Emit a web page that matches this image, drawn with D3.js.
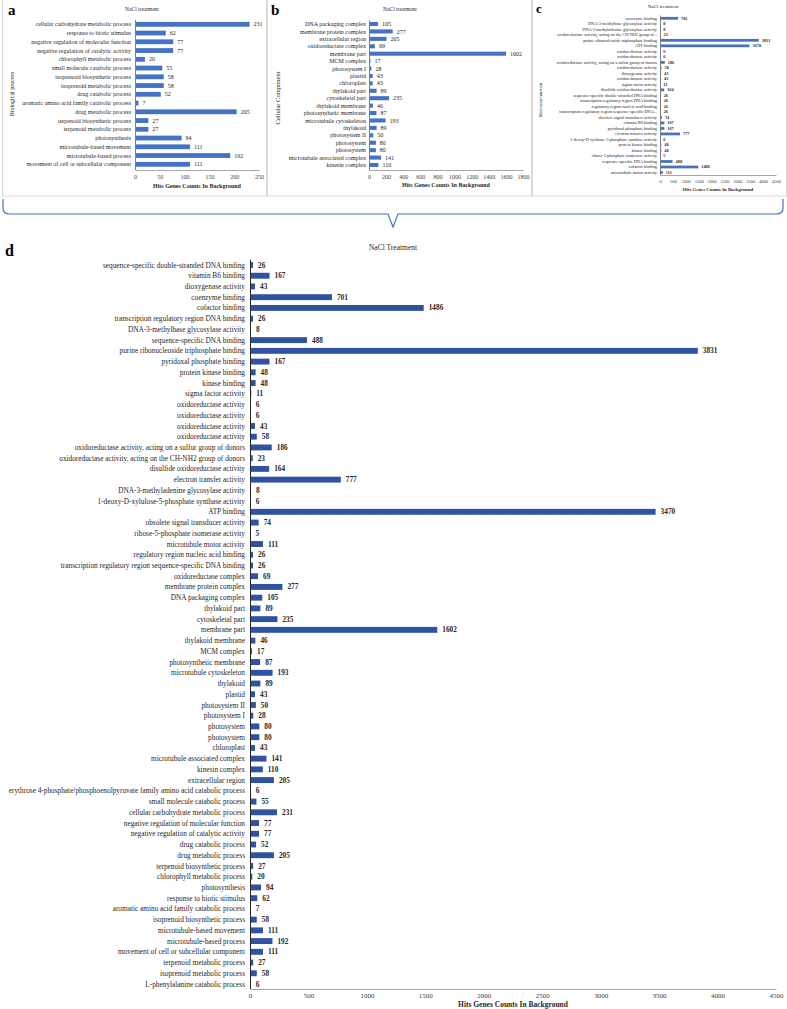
<!DOCTYPE html>
<html><head><meta charset="utf-8">
<script src="https://cdn.jsdelivr.net/npm/d3@7"></script>
<style>
body{margin:0;background:#fff;}
svg{display:block;font-family:"Liberation Serif","DejaVu Serif",serif;}
</style></head>
<body><svg id="c" width="787" height="1009"></svg>
<script>
// ---------- DATA ----------
const bpCats = ["cellular carbohydrate metabolic process","response to biotic stimulus","negative regulation of molecular function","negative regulation of catalytic activity","chlorophyll metabolic process","small molecule catabolic process","isoprenoid biosynthetic process","isoprenoid metabolic process","drug catabolic process","aromatic amino acid family catabolic process","drug metabolic process","terpenoid biosynthetic process","terpenoid metabolic process","photosynthesis","microtubule-based movement","microtubule-based process","movement of cell or subcellular component"];
const bpVals = [231,62,77,77,20,55,58,58,52,7,205,27,27,94,111,192,111];
const bpTicks = [0,50,100,150,200,250];

const ccCats = ["DNA packaging complex","membrane protein complex","extracellular region","oxidoreductase complex","membrane part","MCM complex","photosystem I","plastid","chloroplast","thylakoid part","cytoskeletal part","thylakoid membrane","photosynthetic membrane","microtubule cytoskeleton","thylakoid","photosystem II","photosystem","photosystem","microtubule associated complex","kinesin complex"];
const ccVals = [105,277,205,69,1602,17,28,43,43,89,235,46,87,193,89,50,80,80,141,110];
const ccTicks = [0,200,400,600,800,1000,1200,1400,1600,1800];

const mfCats = ["coenzyme binding","DNA-3-methylbase glycosylase activity","DNA-3-methyladenine glycosylase activity","oxidoreductase activity, acting on the CH-NH2 group of...","purine ribonucleoside triphosphate binding","ATP binding","oxidoreductase activity","oxidoreductase activity","oxidoreductase activity, acting on a sulfur group of donors","oxidoreductase activity","dioxygenase activity","oxidoreductase activity","sigma factor activity","disulfide oxidoreductase activity","sequence-specific double-stranded DNA binding","transcription regulatory region DNA binding","regulatory region nucleic acid binding","transcription regulatory region sequence-specific DNA...","obsolete signal transducer activity","vitamin B6 binding","pyridoxal phosphate binding","electron transfer activity","1-deoxy-D-xylulose-5-phosphate synthase activity","protein kinase binding","kinase binding","ribose-5-phosphate isomerase activity","sequence-specific DNA binding","cofactor binding","microtubule motor activity"];
const mfVals = [701,8,8,23,3831,3470,6,6,186,58,43,43,11,164,26,26,26,26,74,167,167,777,6,48,48,5,488,1486,111];
const mfTicks = [0,500,1000,1500,2000,2500,3000,3500,4000,4500];

const allCats = ["sequence-specific double-stranded DNA binding","vitamin B6 binding","dioxygenase activity","coenzyme binding","cofactor binding","transcription regulatory region DNA binding","DNA-3-methylbase glycosylase activity","sequence-specific DNA binding","purine ribonucleoside triphosphate binding","pyridoxal phosphate binding","protein kinase binding","kinase binding","sigma factor activity","oxidoreductase activity","oxidoreductase activity","oxidoreductase activity","oxidoreductase activity","oxidoreductase activity, acting on a sulfur group of donors","oxidoreductase activity, acting on the CH-NH2 group of donors","disulfide oxidoreductase activity","electron transfer activity","DNA-3-methyladenine glycosylase activity","1-deoxy-D-xylulose-5-phosphate synthase activity","ATP binding","obsolete signal transducer activity","ribose-5-phosphate isomerase activity","microtubule motor activity","regulatory region nucleic acid binding","transcription regulatory region sequence-specific DNA binding","oxidoreductase complex","membrane protein complex","DNA packaging complex","thylakoid part","cytoskeletal part","membrane part","thylakoid membrane","MCM complex","photosynthetic membrane","microtubule cytoskeleton","thylakoid","plastid","photosystem II","photosystem I","photosystem","photosystem","chloroplast","microtubule associated complex","kinesin complex","extracellular region","erythrose 4-phosphate/phosphoenolpyruvate family amino acid catabolic process","small molecule catabolic process","cellular carbohydrate metabolic process","negative regulation of molecular function","negative regulation of catalytic activity","drug catabolic process","drug metabolic process","terpenoid biosynthetic process","chlorophyll metabolic process","photosynthesis","response to biotic stimulus","aromatic amino acid family catabolic process","isoprenoid biosynthetic process","microtubule-based movement","microtubule-based process","movement of cell or subcellular component","terpenoid metabolic process","isoprenoid metabolic process","L-phenylalanine catabolic process"];
const allVals = [26,167,43,701,1486,26,8,488,3831,167,48,48,11,6,6,43,58,186,23,164,777,8,6,3470,74,5,111,26,26,69,277,105,89,235,1602,46,17,87,193,89,43,50,28,80,80,43,141,110,205,6,55,231,77,77,52,205,27,20,94,62,7,58,111,192,111,27,58,6];
const allTicks = [0,500,1000,1500,2000,2500,3000,3500,4000,4500];

// ---------- DRAW ----------
const svg = d3.select("#c");

// panel frames
const frames = [[2,0,265,197],[267,0,265,197],[532,0,255,197]];
svg.selectAll("rect.frame").data(frames).enter().append("rect")
  .attr("x",d=>d[0]+0.5).attr("y",d=>d[1]-1).attr("width",d=>d[2]-1).attr("height",d=>d[3])
  .attr("fill","#fff").attr("stroke","#d9d9d9").attr("stroke-width",1);

function panel(o){
  const g = svg.append("g");
  const x = d3.scaleLinear().domain([0,o.max]).range([o.x0,o.x1]);
  const step = (o.yLast-o.yFirst)/(o.cats.length-1);
  const idx = o.cats.map((d,i)=>i);
  const y = d3.scaleBand().domain(idx).range([o.yFirst-step/2,o.yLast+step/2]).paddingInner(o.pad).paddingOuter(o.pad/2);
  // bars
  g.selectAll("rect.bar").data(idx).enter().append("rect")
    .attr("x",x(0)).attr("y",i=>y(i)).attr("height",y.bandwidth())
    .attr("width",i=>Math.max(0.8,x(o.vals[i])-x(0))).attr("fill",o.color);
  // category labels
  g.selectAll("text.cat").data(idx).enter().append("text")
    .attr("x",x(0)-o.labGap).attr("y",i=>y(i)+y.bandwidth()/2).attr("dy","0.35em")
    .attr("text-anchor","end").attr("font-size",o.fs).attr("fill","#262626")
    .text(i=>o.cats[i]);
  // value labels
  g.selectAll("text.val").data(idx).enter().append("text")
    .attr("x",i=>x(o.vals[i])+o.valGap).attr("y",i=>y(i)+y.bandwidth()/2).attr("dy","0.35em")
    .attr("font-size",o.fs).attr("fill","#262626").attr("font-weight",o.valBold?"bold":"normal")
    .text(i=>o.vals[i]);
  // x axis
  const ax = g.append("g").attr("transform",`translate(0,${o.axisY})`)
    .call(d3.axisBottom(x).tickValues(o.ticks).tickFormat(d3.format("d")).tickSize(0).tickPadding(o.tickPad));
  ax.select(".domain").attr("stroke","#a6a6a6");
  ax.selectAll("text").attr("font-size",o.tfs).attr("fill","#404040").attr("font-family","Liberation Serif");
  // y axis line
  g.append("line").attr("x1",x(0)+0.5).attr("x2",x(0)+0.5)
    .attr("y1",o.yFirst-step/2).attr("y2",o.axisY).attr("stroke",o.yAxisColor).attr("stroke-width",1);
  // titles
  g.append("text").attr("x",o.titleX).attr("y",o.titleY).attr("text-anchor","middle")
    .attr("font-size",o.titleFs).attr("fill","#262626").text(o.title);
  g.append("text").attr("x",(o.x0+o.x1)/2).attr("y",o.xtY).attr("text-anchor","middle")
    .attr("font-size",o.xtFs).attr("fill","#262626").attr("font-weight","bold").text("Hits Genes Counts In Background");
  if(o.ytitle){
    g.append("text").attr("transform",`translate(${o.ytX},${o.ytY}) rotate(-90)`).attr("text-anchor","middle")
      .attr("font-size",o.ytFs).attr("fill","#262626").text(o.ytitle);
  }
  g.append("text").attr("x",o.letX).attr("y",o.letY).attr("font-size",o.letFs)
    .attr("font-weight","bold").attr("fill","#000").text(o.letter);
}

panel({cats:bpCats,vals:bpVals,ticks:bpTicks,max:250,x0:135,x1:259,yFirst:24.3,yLast:164.3,pad:0.45,
  color:"#4472c4",fs:6,tfs:6,labGap:4,valGap:4,valBold:false,axisY:170,tickPad:5,yAxisColor:"#7f7f7f",
  title:"NaCl treatment",titleX:142,titleY:11,titleFs:5.5,xtY:188,xtFs:6,
  ytitle:"Biological process",ytX:14,ytY:94,ytFs:6,letter:"a",letX:8,letY:15,letFs:15});

panel({cats:ccCats,vals:ccVals,ticks:ccTicks,max:1800,x0:369,x1:523,yFirst:24,yLast:165,pad:0.45,
  color:"#4472c4",fs:6,tfs:6,labGap:3,valGap:4,valBold:false,axisY:170,tickPad:5,yAxisColor:"#7f7f7f",
  title:"NaCl treatment",titleX:400,titleY:11,titleFs:5.5,xtY:187,xtFs:6,
  ytitle:"Cellular Component",ytX:280,ytY:98,ytFs:6.5,letter:"b",letX:271,letY:15,letFs:15});

panel({cats:mfCats,vals:mfVals,ticks:mfTicks,max:4500,x0:660,x1:776,yFirst:18.3,yLast:172.5,pad:0.5,
  color:"#4472c4",fs:4.3,tfs:4.5,labGap:3,valGap:3,valBold:true,axisY:175,tickPad:5,yAxisColor:"#7f7f7f",
  title:"NaCl treatment",titleX:663,titleY:8,titleFs:5,xtY:191,xtFs:4.8,
  ytitle:"Molecular function",ytX:542,ytY:100,ytFs:4.5,letter:"c",letX:536,letY:13,letFs:13});

panel({cats:allCats,vals:allVals,ticks:allTicks,max:4500,x0:250,x1:776,yFirst:265,yLast:984,pad:0.45,
  color:"#2f52a3",fs:7.3,tfs:7,labGap:5,valGap:5,valBold:true,axisY:989,tickPad:4,yAxisColor:"#262626",
  title:"NaCl Treatment",titleX:393,titleY:250,titleFs:7.5,xtY:1007,xtFs:7.5,
  ytitle:null,letter:"d",letX:5,letY:256,letFs:16});

// bracket
const br = d3.path();
br.moveTo(3,199); br.lineTo(3,208); br.quadraticCurveTo(3,214,10,214);
br.lineTo(388,214); br.lineTo(393,227); br.lineTo(398,214);
br.lineTo(776,214); br.quadraticCurveTo(783,214,783,208); br.lineTo(783,199);
svg.append("path").attr("d",br.toString()).attr("fill","none").attr("stroke","#4472c4").attr("stroke-width",1.2);
</script></body></html>
